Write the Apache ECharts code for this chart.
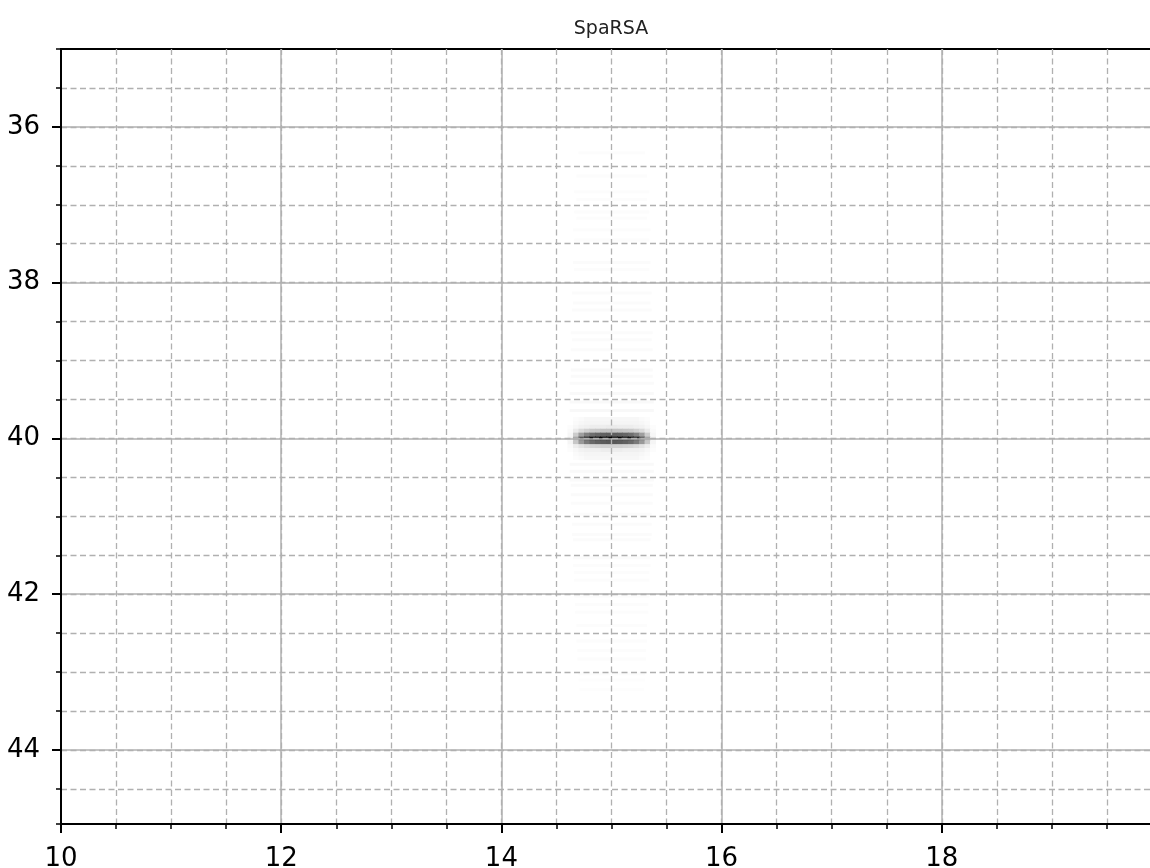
<!DOCTYPE html>
<html>
<head>
<meta charset="utf-8">
<script src="https://cdn.jsdelivr.net/npm/echarts@6/dist/echarts.min.js"></script>
<style>html,body{margin:0;padding:0;background:#fff;}#chart{width:1150px;height:868px;}</style>
</head>
<body>
<div id="chart"></div>
<script>
// ---- data ----
const titleText = 'SpaRSA';
const xMajorTicks = [10, 12, 14, 16, 18];
const yMajorTicks = [36, 38, 40, 42, 44];
// column centres of the dark core cells, width 0.05
const coreX = [14.625, 14.675, 14.725, 14.775, 14.825, 14.875, 14.925, 14.975,
               15.025, 15.075, 15.125, 15.175, 15.225, 15.275, 15.325, 15.375];
// row centres of the core cells, height 0.05
const coreY = [39.75, 39.80, 39.85, 39.90, 39.95, 40.00, 40.05, 40.10, 40.15, 40.20, 40.25];
// magnitude of each core cell (0 = white, 1 = black), one array per row
const coreLevels = [
  [0.00,0.01,0.02,0.03,0.03,0.03,0.03,0.03,0.03,0.03,0.03,0.03,0.03,0.02,0.01,0.00],
  [0.00,0.02,0.03,0.04,0.04,0.04,0.04,0.04,0.04,0.04,0.04,0.04,0.04,0.03,0.02,0.00],
  [0.01,0.03,0.05,0.06,0.07,0.07,0.07,0.08,0.08,0.07,0.07,0.07,0.06,0.05,0.03,0.01],
  [0.02,0.08,0.14,0.18,0.21,0.22,0.23,0.23,0.23,0.23,0.22,0.21,0.18,0.14,0.08,0.02],
  [0.03,0.20,0.38,0.50,0.57,0.60,0.62,0.63,0.63,0.62,0.60,0.57,0.50,0.38,0.20,0.03],
  [0.05,0.34,0.66,0.85,0.93,0.96,0.98,0.99,0.99,0.98,0.96,0.93,0.85,0.66,0.34,0.05],
  [0.04,0.22,0.40,0.52,0.59,0.62,0.64,0.65,0.65,0.64,0.62,0.59,0.52,0.40,0.22,0.04],
  [0.02,0.07,0.11,0.14,0.16,0.17,0.18,0.18,0.18,0.18,0.17,0.16,0.14,0.11,0.07,0.02],
  [0.01,0.03,0.05,0.06,0.06,0.06,0.07,0.07,0.07,0.07,0.06,0.06,0.06,0.05,0.03,0.01],
  [0.00,0.02,0.03,0.04,0.04,0.04,0.04,0.04,0.04,0.04,0.04,0.04,0.04,0.03,0.02,0.00],
  [0.00,0.01,0.02,0.03,0.03,0.03,0.03,0.03,0.03,0.03,0.03,0.03,0.03,0.02,0.01,0.00]
];
// faint horizontal streak rows: [y, xStart, xEnd, level]
const streakRows = [
  [36.33,14.70,15.30,0.010],[36.63,14.68,15.32,0.011],[36.83,14.66,15.34,0.012],[36.93,14.68,15.32,0.011],
  [37.09,14.66,15.34,0.012],[37.17,14.68,15.32,0.011],[37.32,14.65,15.35,0.013],[37.45,14.66,15.34,0.012],
  [37.74,14.65,15.35,0.014],[37.83,14.66,15.34,0.013],[38.13,14.64,15.36,0.015],[38.26,14.65,15.35,0.014],
  [38.35,14.64,15.36,0.015],[38.64,14.63,15.37,0.016],[38.73,14.64,15.36,0.015],[38.86,14.63,15.37,0.017],
  [39.12,14.63,15.37,0.018],[39.20,14.63,15.37,0.018],[39.29,14.62,15.38,0.020],[39.42,14.62,15.38,0.022],
  [39.53,14.62,15.38,0.024],[39.64,14.62,15.38,0.026],
  [40.33,14.62,15.38,0.024],[40.42,14.62,15.38,0.022],[40.53,14.62,15.38,0.020],[40.60,14.63,15.37,0.019],
  [40.72,14.63,15.37,0.018],[40.83,14.63,15.37,0.017],[40.97,14.64,15.36,0.016],[41.10,14.64,15.36,0.015],
  [41.23,14.64,15.36,0.015],[41.30,14.65,15.35,0.014],[41.53,14.65,15.35,0.014],[41.63,14.65,15.35,0.013],
  [41.72,14.66,15.34,0.013],[41.82,14.66,15.34,0.012],[42.02,14.66,15.34,0.012],[42.13,14.67,15.33,0.012],
  [42.23,14.67,15.33,0.011],[42.40,14.68,15.32,0.011],[42.60,14.68,15.32,0.011],[42.72,14.69,15.31,0.010],
  [42.83,14.69,15.31,0.010],[43.02,14.70,15.30,0.010],[43.10,14.70,15.30,0.009],[43.22,14.71,15.29,0.009]
];

// ---- build cell table: [xCentre, yCentre, width, height, level] ----
const cells = [];
streakRows.forEach(r => cells.push([(r[1] + r[2]) / 2, r[0], r[2] - r[1], 0.035, r[3]]));
coreY.forEach((y, i) => coreX.forEach((x, j) => cells.push([x, y, 0.05, 0.05, coreLevels[i][j]])));

function renderItem(params, api) {
  const x = api.value(0), y = api.value(1), w = api.value(2), h = api.value(3), v = api.value(4);
  const p0 = api.coord([x - w / 2, y - h / 2]);
  const p1 = api.coord([x + w / 2, y + h / 2]);
  const g = Math.round(255 * (1 - v));
  return {
    type: 'rect',
    shape: {
      x: Math.min(p0[0], p1[0]), y: Math.min(p0[1], p1[1]),
      width: Math.abs(p1[0] - p0[0]) + 0.5, height: Math.abs(p1[1] - p0[1]) + 0.3
    },
    style: { fill: 'rgb(' + g + ',' + g + ',' + g + ')' }
  };
}

const FONT = 'DejaVu Sans';
const gridColor = '#b0b0b0';
const chart = echarts.init(document.getElementById('chart'), null, { renderer: 'canvas' });
chart.setOption({
  animation: false,
  backgroundColor: '#fff',
  title: {
    text: titleText, left: 606, top: 15, textAlign: 'center',
    textStyle: { fontFamily: FONT, fontSize: 19, fontWeight: 'normal', color: '#222' }
  },
  grid: {
    left: 61, top: 49, width: 1101, height: 775,
    outerBoundsMode: 'none', containLabel: false,
    show: true, borderColor: '#000', borderWidth: 2, backgroundColor: 'transparent'
  },
  xAxis: [
    {
      type: 'value', position: 'bottom', min: 10, max: 20, interval: 0.5, z: 5,
      axisLine: { show: true, lineStyle: { color: '#000', width: 2 } },
      axisTick: { show: true, length: 5, lineStyle: { color: '#000', width: 1.5 } },
      axisLabel: { show: false },
      splitLine: { show: true, showMinLine: false, showMaxLine: false,
                   lineStyle: { color: gridColor, width: 1.3, type: [6, 3.5] } }
    },
    {
      type: 'value', position: 'bottom', min: 10, max: 20, interval: 2, z: 6,
      axisLine: { show: true, lineStyle: { color: '#000', width: 2 } },
      axisTick: { show: true, length: 9, lineStyle: { color: '#000', width: 2 } },
      axisLabel: { show: true, margin: 22, showMaxLabel: false, fontFamily: FONT, fontSize: 26, color: '#000',
                   formatter: v => xMajorTicks.indexOf(v) >= 0 ? String(v) : '' },
      splitLine: { show: true, showMinLine: false, showMaxLine: false,
                   lineStyle: { color: gridColor, width: 1.5, type: 'solid' } }
    }
  ],
  yAxis: [
    {
      type: 'value', position: 'left', min: 35, max: 44.95, interval: 0.5, inverse: true, z: 5,
      axisLine: { show: true, lineStyle: { color: '#000', width: 2 } },
      axisTick: { show: true, length: 5, lineStyle: { color: '#000', width: 1.5 } },
      axisLabel: { show: false },
      splitLine: { show: true, showMinLine: false, showMaxLine: false,
                   lineStyle: { color: gridColor, width: 1.3, type: [6, 3.5] } }
    },
    {
      type: 'value', position: 'left', min: 35, max: 44.95, inverse: true, z: 6,
      axisLine: { show: true, lineStyle: { color: '#000', width: 2 } },
      axisTick: { show: true, length: 9, customValues: yMajorTicks, lineStyle: { color: '#000', width: 2 } },
      axisLabel: { show: true, margin: 21, customValues: yMajorTicks, fontFamily: FONT, fontSize: 26, color: '#000' },
      splitLine: { show: true, showMinLine: true, showMaxLine: true,
                   lineStyle: { color: gridColor, width: 1.5, type: 'solid' } }
    }
  ],
  series: [{
    type: 'custom', xAxisIndex: 1, yAxisIndex: 1, z: 1,
    renderItem: renderItem, data: cells, silent: true, clip: true,
    encode: { x: 0, y: 1 }
  }]
});
</script>
</body>
</html>
